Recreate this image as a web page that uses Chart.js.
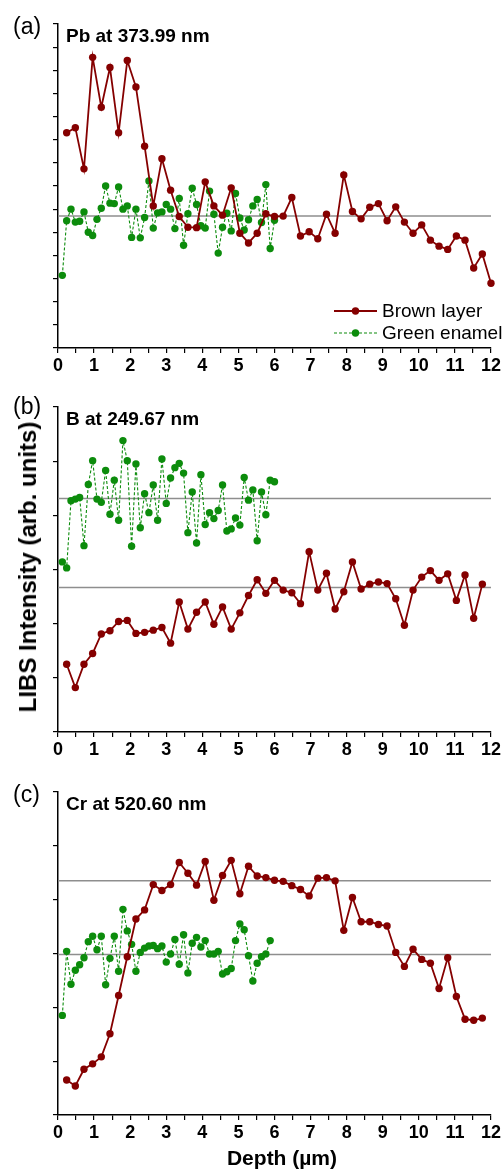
<!DOCTYPE html>
<html><head><meta charset="utf-8">
<script src="https://cdn.jsdelivr.net/npm/chart.js@4.4.0/dist/chart.umd.min.js"></script>
<style>
html,body{margin:0;padding:0;background:#fff;}
#wrap{position:relative;width:504px;height:1170px;overflow:hidden;font-family:"Liberation Sans",Arial,sans-serif;color:#000;}
canvas{position:absolute;left:0;}
.lbl{position:absolute;white-space:nowrap;line-height:1;}
.ttl{font-weight:bold;font-size:19px;left:66px;}
.pl{font-size:23px;left:13px;}
</style></head><body>
<div id="wrap">
<canvas id="ca" width="504" height="385" style="top:0px"></canvas>
<canvas id="cb" width="504" height="385" style="top:385px"></canvas>
<canvas id="cc" width="504" height="400" style="top:770px"></canvas>
<div class="lbl pl" style="top:15px">(a)</div>
<div class="lbl pl" style="top:395px">(b)</div>
<div class="lbl pl" style="top:783px">(c)</div>
<div class="lbl ttl" style="top:25.7px">Pb at 373.99 nm</div>
<div class="lbl ttl" style="top:409px">B at 249.67 nm</div>
<div class="lbl ttl" style="top:794px">Cr at 520.60 nm</div>
<div class="lbl" style="left:28px;top:567px;font-size:24px;font-weight:bold;transform:translate(-50%,-50%) rotate(-90deg);">LIBS Intensity (arb. units)</div>
<div class="lbl" style="left:282px;top:1157px;font-size:21px;font-weight:bold;transform:translate(-50%,-50%);">Depth (µm)</div>
</div>
<script>
// ---- data ----
const depthBrown = [0.24,0.48,0.72,0.96,1.20,1.44,1.68,1.92,2.16,2.40,2.64,2.88,3.12,3.36,3.60,3.84,4.08,4.32,4.56,4.80,5.04,5.28,5.52,5.76,6.00,6.24,6.48,6.72,6.96,7.20,7.44,7.68,7.92,8.16,8.40,8.64,8.88,9.12,9.36,9.60,9.84,10.08,10.32,10.56,10.80,11.04,11.28,11.52,11.76,12.00];
const depthGreen = [0.12,0.24,0.36,0.48,0.60,0.72,0.84,0.96,1.08,1.20,1.32,1.44,1.56,1.68,1.80,1.92,2.04,2.16,2.28,2.40,2.52,2.64,2.76,2.88,3.00,3.12,3.24,3.36,3.48,3.60,3.72,3.84,3.96,4.08,4.20,4.32,4.44,4.56,4.68,4.80,4.92,5.04,5.16,5.28,5.40,5.52,5.64,5.76,5.88,6.00];

const pbBrown = [4.65,4.76,3.87,6.28,5.20,6.06,4.65,6.21,5.64,4.36,3.07,4.09,3.41,2.84,2.61,2.60,3.59,3.07,2.87,3.46,2.48,2.27,2.48,2.90,2.84,2.85,3.25,2.42,2.51,2.36,2.89,2.48,3.74,2.95,2.79,3.04,3.12,2.75,3.05,2.72,2.48,2.66,2.33,2.20,2.13,2.42,2.33,1.73,2.03,1.40];
const pbGreen = [1.57,2.75,3.00,2.72,2.74,2.94,2.50,2.43,2.78,3.02,3.50,3.13,3.12,3.48,3.00,3.07,2.39,3.00,2.38,2.82,3.61,2.59,2.92,2.94,3.10,3.00,2.58,3.23,2.22,2.90,3.45,3.10,2.64,2.59,3.39,2.89,2.05,2.61,2.91,2.53,3.34,2.81,2.55,2.77,3.07,3.21,2.71,3.53,2.15,2.76];
const pbRef = [2.85];

const bBrown = [1.25,0.82,1.25,1.45,1.81,1.87,2.04,2.06,1.82,1.84,1.88,1.93,1.64,2.40,1.90,2.21,2.40,1.99,2.31,1.90,2.20,2.52,2.81,2.56,2.80,2.62,2.57,2.37,3.33,2.62,2.93,2.27,2.59,3.14,2.64,2.73,2.77,2.74,2.46,1.97,2.62,2.86,2.98,2.80,2.92,2.43,2.90,2.10,2.73];
const bGreen = [3.14,3.03,4.27,4.30,4.33,3.44,4.57,5.01,4.30,4.24,4.83,4.02,4.65,3.91,5.38,5.01,3.43,4.95,3.77,4.40,4.05,4.56,3.91,5.04,4.22,4.69,4.88,4.96,4.78,3.68,4.43,3.49,4.75,3.83,4.05,3.94,4.09,4.56,3.71,3.75,3.95,3.82,4.70,4.28,4.47,3.53,4.43,4.01,4.65,4.62];
const bRef = [4.31,2.67];

const crBrown = [0.65,0.54,0.85,0.95,1.08,1.51,2.22,2.94,3.64,3.81,4.28,4.17,4.28,4.69,4.49,4.27,4.71,3.99,4.45,4.73,4.11,4.62,4.44,4.41,4.36,4.34,4.26,4.19,4.07,4.40,4.41,4.35,3.43,4.04,3.59,3.59,3.54,3.51,3.02,2.76,3.08,2.89,2.82,2.35,2.92,2.20,1.78,1.76,1.80];
const crGreen = [1.85,3.04,2.43,2.69,2.79,2.92,3.22,3.32,3.07,3.32,2.42,2.91,3.32,2.67,3.82,3.42,3.17,2.67,3.02,3.10,3.14,3.15,3.09,3.14,2.84,2.99,3.26,2.80,3.35,2.64,3.19,3.30,3.12,3.24,2.99,2.99,3.04,2.62,2.66,2.72,3.24,3.55,3.44,2.96,2.49,2.82,2.94,2.99,3.24];
const crRef = [4.35,2.98];

const seriesNames = ['Brown layer','Green enamel'];
const xMin = 0, xMax = 12;

// ---- styles ----
const FONT = '"Liberation Sans", Arial, sans-serif';
const BROWN = '#850000';
const GREEN = '#0c8c0c';
const REFC = '#8e8e8e';
const PR = 3.7;
Chart.defaults.font.family = FONT;

function pts(depth, vals){ return vals.map((v,i)=>({x:depth[i], y:v})); }

function buildDatasets(brown, green, refs){
  const ds = refs.map(r => ({
    data:[{x:xMin,y:r},{x:xMax,y:r}], borderColor:REFC, borderWidth:1.5,
    pointRadius:0, clip:false, order:3
  }));
  ds.push({label:seriesNames[1], data:pts(depthGreen, green), borderColor:GREEN, backgroundColor:GREEN,
    borderWidth:1.1, borderDash:[3,2], pointRadius:PR, pointBorderWidth:0, pointBackgroundColor:GREEN, clip:false, order:2});
  ds.push({label:seriesNames[0], data:pts(depthBrown, brown), borderColor:BROWN, backgroundColor:BROWN,
    borderWidth:1.8, pointRadius:PR, pointBorderWidth:0, pointBackgroundColor:BROWN, clip:false, order:1});
  return ds;
}

const legendPlugin = {
  id:'insideLegend',
  afterDraw(chart){
    const ctx = chart.ctx;
    const items = [
      {label:seriesNames[0], color:BROWN, dash:[], w:2, y:311},
      {label:seriesNames[1], color:GREEN, dash:[3,2], w:1.1, y:333}
    ];
    ctx.save();
    items.forEach(it=>{
      ctx.strokeStyle = it.color; ctx.lineWidth = it.w; ctx.setLineDash(it.dash);
      ctx.beginPath(); ctx.moveTo(334, it.y); ctx.lineTo(377, it.y); ctx.stroke();
      ctx.setLineDash([]);
      ctx.fillStyle = it.color; ctx.beginPath(); ctx.arc(355.5, it.y, PR, 0, Math.PI*2); ctx.fill();
      ctx.fillStyle = '#000'; ctx.font = '19px ' + FONT; ctx.textBaseline = 'middle'; ctx.textAlign = 'left';
      ctx.fillText(it.label, 382, it.y + 1);
    });
    ctx.restore();
  }
};

function makeChart(id, brown, green, refs, yMax, yStep, padTop, xAxisH, extraPlugins){
  return new Chart(document.getElementById(id), {
    type:'line',
    data:{datasets:buildDatasets(brown, green, refs)},
    options:{
      responsive:false, animation:false, devicePixelRatio:1,
      layout:{padding:{top:padTop, left:0, right:13, bottom:0}},
      plugins:{legend:{display:false}, tooltip:{enabled:false}},
      scales:{
        x:{type:'linear', min:xMin, max:xMax,
          ticks:{stepSize:0.5, autoSkip:false, maxRotation:0, padding:2, color:'#000',
            font:{size:18, weight:'bold', family:FONT},
            callback:(v)=> Number.isInteger(v) ? String(v) : ''},
          grid:{display:true, drawOnChartArea:false, drawTicks:true, tickLength:5, color:'#000', lineWidth:1.2},
          border:{display:true, color:'#000', width:1.5},
          afterFit:(s)=>{ s.height = xAxisH; }
        },
        y:{type:'linear', min:0, max:yMax,
          ticks:{display:false, stepSize:yStep},
          grid:{display:true, drawOnChartArea:false, drawTicks:true, tickLength:5, color:'#000', lineWidth:1.2},
          border:{display:true, color:'#000', width:1.5},
          afterFit:(s)=>{ s.width = 58; }
        }
      }
    },
    plugins: extraPlugins || []
  });
}

makeChart('ca', pbBrown, pbGreen, pbRef, 7, 0.5, 24, 37, [legendPlugin]);
makeChart('cb', bBrown, bGreen, bRef, 6, 1, 22, 38);
makeChart('cc', crBrown, crGreen, crRef, 6, 1, 22, 55);
</script>
</body></html>
